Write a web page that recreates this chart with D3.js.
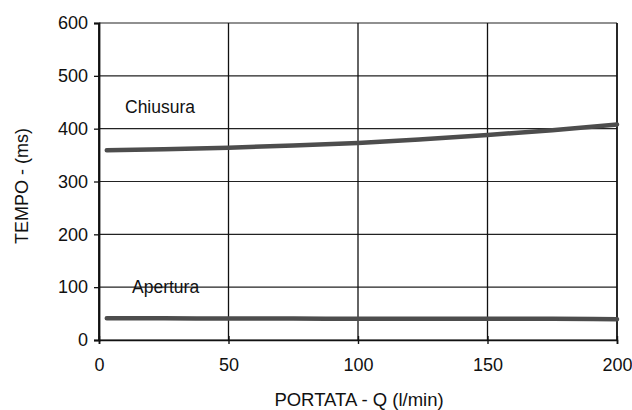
<!DOCTYPE html>
<html>
<head>
<meta charset="utf-8">
<script src="https://cdn.jsdelivr.net/npm/d3@7"></script>
<style>
  body { margin: 0; background: #fff; }
  text { font-family: "Liberation Sans", Arial, sans-serif; fill: #111; }
</style>
</head>
<body>
<div class="chart"></div>
<script>
'use strict';

// values
const portata = [3, 25, 50, 75, 100, 125, 150, 175, 200];
const chiusura = [359, 361, 364, 368, 373, 380, 388, 397, 408];
const apertura = [41, 41, 40.5, 40.5, 40, 40, 40, 40, 39.5];
const xTicks = [0, 50, 100, 150, 200];
const yTicks = [0, 100, 200, 300, 400, 500, 600];

(function() {
    let svg = d3.select('.chart').append('svg')
        .attr('width', 632).attr('height', 410);

    let xScale = d3.scaleLinear().domain([0, 200]).range([99, 617]);
    let yScale = d3.scaleLinear().domain([0, 600]).range([340, 23]);

    // grid
    svg.append('g').selectAll('line')
        .data(yTicks)
        .enter().append('line')
          .attr('x1', xScale(0)).attr('x2', xScale(200))
          .attr('y1', (d) => yScale(d)).attr('y2', (d) => yScale(d))
          .attr('stroke', '#222').attr('stroke-width', 1.1);

    svg.append('g').selectAll('line')
        .data(xTicks)
        .enter().append('line')
          .attr('x1', (d) => xScale(d)).attr('x2', (d) => xScale(d))
          .attr('y1', yScale(0)).attr('y2', yScale(600))
          .attr('stroke', '#111').attr('stroke-width', (d) => d == 0 || d == 200 ? 1.8 : 1.3);

    // axes
    let xAxis = d3.axisBottom(xScale).tickValues(xTicks).tickSize(4).tickPadding(14);
    let gx = svg.append('g')
        .attr('transform', 'translate(0,' + yScale(0) + ')')
        .call(xAxis);
    gx.select('.domain').attr('stroke', '#111').attr('stroke-width', 1.6);
    gx.selectAll('.tick line').attr('y1', -4).attr('stroke', '#111').attr('stroke-width', 1.4);
    gx.selectAll('.tick text').style('font-size', '18px').attr('fill', '#111');

    let yAxis = d3.axisLeft(yScale).tickValues(yTicks).tickSize(5).tickPadding(6);
    let gy = svg.append('g')
        .attr('transform', 'translate(' + xScale(0) + ',0)')
        .call(yAxis);
    gy.select('.domain').attr('stroke', '#111').attr('stroke-width', 1.8);
    gy.selectAll('.tick line').attr('stroke', '#111').attr('stroke-width', 1.3);
    gy.selectAll('.tick text').style('font-size', '18px').attr('fill', '#111');

    // series
    let line = d3.line()
        .x((d, i) => xScale(portata[i]))
        .y((d) => yScale(d))
        .curve(d3.curveMonotoneX);

    [chiusura, apertura].forEach((serie) => {
        svg.append('path')
            .attr('d', line(serie))
            .attr('fill', 'none')
            .attr('stroke', '#4d4d4d')
            .attr('stroke-width', 4.5)
            .attr('stroke-linecap', 'round');
    });

    // labels
    svg.append('text')
        .attr('x', 125).attr('y', yScale(430))
        .style('font-size', '17.5px')
        .text('Chiusura');

    svg.append('text')
        .attr('x', 132).attr('y', yScale(89))
        .style('font-size', '17.5px')
        .text('Apertura');

    svg.append('text')
        .attr('x', 359).attr('y', 406)
        .attr('text-anchor', 'middle')
        .style('font-size', '18.5px')
        .text('PORTATA - Q (l/min)');

    svg.append('text')
        .attr('transform', 'translate(28, 186)rotate(-90)')
        .attr('text-anchor', 'middle')
        .style('font-size', '18px')
        .text('TEMPO - (ms)');
})();
</script>
</body>
</html>
